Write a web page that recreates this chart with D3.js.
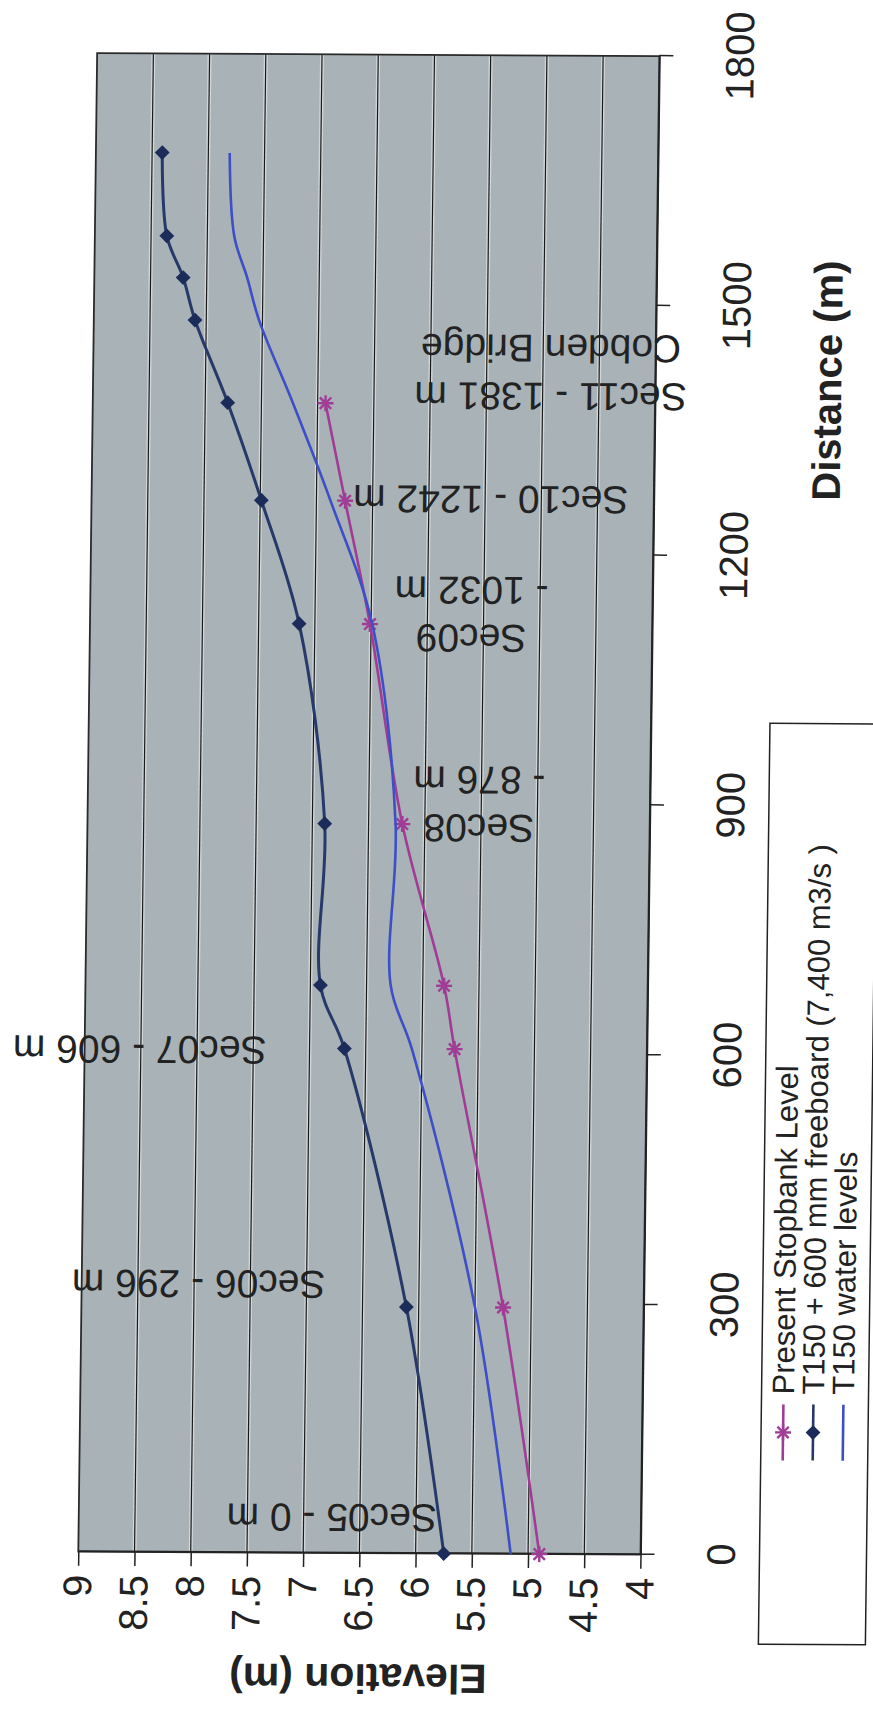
<!DOCTYPE html>
<html>
<head>
<meta charset="utf-8">
<script src="https://cdn.jsdelivr.net/npm/d3@7"></script>
<style>
  html, body { margin: 0; padding: 0; background: #ffffff; }
  svg { display: block; }
  text { font-family: "Liberation Sans", Arial, "Helvetica", sans-serif; fill: #222; }
</style>
</head>
<body>
<svg id="chart" width="873" height="1725"></svg>
<script>
// ---- data ----------------------------------------------------------------
const distanceTicks  = [0, 300, 600, 900, 1200, 1500, 1800];
const elevationTicks = [4, 4.5, 5, 5.5, 6, 6.5, 7, 7.5, 8, 8.5, 9];

const stopbankDistance = [0, 296, 606, 682, 876, 1116, 1264, 1381];
const stopbankLevel    = [4.90, 5.25, 5.71, 5.81, 6.20, 6.51, 6.745, 6.93];

const freeboardDistance = [0, 296, 606, 682, 876, 1116, 1264, 1381, 1480, 1531, 1581, 1681];
const freeboardLevel    = [5.75, 6.11, 6.69, 6.91, 6.89, 7.14, 7.49, 7.80, 8.10, 8.21, 8.36, 8.41];

const waterDistance = [0, 296, 606, 682, 876, 1116, 1264, 1381, 1480, 1531, 1581, 1681];
const waterLevel    = [5.155, 5.50, 6.09, 6.285, 6.26, 6.49, 6.875, 7.22, 7.53, 7.64, 7.76, 7.81];

const seriesNames = [
  "Present Stopbank Level",
  "T150 + 600 mm freeboard (7,400 m3/s )",
  "T150 water levels"
];

// cross-section annotations, anchored at (distance, elevation) of the label centre
const sectionText      = [["Sec05 - 0 m"], ["Sec06 - 296 m"], ["Sec07 - 606 m"], ["Sec08", "- 876 m"],
                          ["Sec09", "- 1032 m"], ["Sec10 - 1242 m"], ["Sec11 - 1381 m", "Cobden Bridge"]];
const sectionDistance  = [42, 322, 603, 871, 1099, 1266, 1390];
const sectionElevation = [6.75, 7.96, 8.51, 5.52, 5.61, 5.45, 4.93];

// ---- layout --------------------------------------------------------------
// The chart is laid out in its own frame (distance across, elevation up)
// and the whole sheet is turned on its side, sitting slightly askew.
const plotLen   = 1498.7;   // length of the distance axis
const plotDepth = 562.2;    // length of the elevation axis
const sheet = { a: 0.01258, b: -0.99991, c: 1.0, d: 0.00525, e: 78.3, f: 1551.7 };

const colors = {
  stopbank: "#a03c96",
  freeboard: "#26396a",
  freeboardMarker: "#1b2c5a",
  water: "#3d4fc6",
  plotBg: "#a9b3b7",
  ink: "#222222"
};

const x = d3.scaleLinear().domain([0, 1800]).range([0, plotLen]);
const y = d3.scaleLinear().domain([4, 9]).range([plotDepth, 0]);

const svg = d3.select("#chart");
svg.append("rect").attr("width", 873).attr("height", 1725).attr("fill", "#fff");

const g = svg.append("g")
  .attr("transform", `matrix(${sheet.a},${sheet.b},${sheet.c},${sheet.d},${sheet.e},${sheet.f})`);

// plot area
g.append("rect")
  .attr("x", 0).attr("y", 0)
  .attr("width", plotLen).attr("height", plotDepth)
  .attr("fill", colors.plotBg);

// horizontal gridlines at every elevation tick
const grid = g.append("g");
const inner = elevationTicks.filter(v => v > 4 && v < 9);
grid.selectAll("line.halo").data(inner).join("line")
  .attr("class", "halo")
  .attr("x1", 0).attr("x2", plotLen)
  .attr("y1", d => y(d)).attr("y2", d => y(d))
  .attr("stroke", "rgba(255,255,255,0.45)").attr("stroke-width", 4);
grid.selectAll("line.rule").data(inner).join("line")
  .attr("class", "rule")
  .attr("x1", 0).attr("x2", plotLen)
  .attr("y1", d => y(d)).attr("y2", d => y(d))
  .attr("stroke", "#1a1a1a").attr("stroke-width", 1.2);

// plot border
g.append("rect")
  .attr("x", 0).attr("y", 0)
  .attr("width", plotLen).attr("height", plotDepth)
  .attr("fill", "none").attr("stroke", "#2a2a2a").attr("stroke-width", 1.8);

// axes
const xAxis = d3.axisBottom(x).tickValues(distanceTicks).tickSize(14).tickSizeOuter(0).tickPadding(52)
  .tickFormat(d3.format("d"));
const yAxis = d3.axisLeft(y).tickValues(elevationTicks).tickSize(14).tickSizeOuter(0).tickPadding(9)
  .tickFormat(d => String(d));

const gx = g.append("g").attr("transform", `translate(0,${plotDepth})`).call(xAxis);
const gy = g.append("g").call(yAxis);
[gx, gy].forEach(ax => {
  ax.select(".domain").attr("stroke", colors.ink).attr("stroke-width", 1.8);
  ax.selectAll(".tick line").attr("stroke", colors.ink).attr("stroke-width", 1.5);
  ax.selectAll(".tick text")
    .attr("fill", colors.ink)
    .style("font-family", '"Liberation Sans", Arial, sans-serif')
    .style("font-size", "40px");
});

// axis titles
g.append("text")
  .attr("x", 1175).attr("y", plotDepth + 172)
  .attr("text-anchor", "middle").attr("dominant-baseline", "central")
  .style("font-size", "40px").style("font-weight", "bold")
  .text("Distance (m)");

g.append("text")
  .attr("transform", `translate(-125,${plotDepth / 2}) rotate(-90)`)
  .attr("text-anchor", "middle").attr("dominant-baseline", "central")
  .style("font-size", "41px").style("font-weight", "bold")
  .text("Elevation (m)");

// series
const curve = d3.curveCatmullRom.alpha(0.5);
const line = d3.line().x(d => x(d[0])).y(d => y(d[1])).curve(curve);

const stopbank  = stopbankDistance.map((d, i) => [d, stopbankLevel[i]]);
const freeboard = freeboardDistance.map((d, i) => [d, freeboardLevel[i]]);
const water     = waterDistance.map((d, i) => [d, waterLevel[i]]);

const starPath = "M-8,0L8,0M0,-8L0,8M-5.7,-5.7L5.7,5.7M-5.7,5.7L5.7,-5.7";
const diamondPath = d3.symbol(d3.symbolSquare, 110)();

g.append("path").datum(stopbank).attr("d", line)
  .attr("fill", "none").attr("stroke", colors.stopbank).attr("stroke-width", 2.6);
g.append("g").selectAll("path").data(stopbank).join("path")
  .attr("transform", d => `translate(${x(d[0])},${y(d[1])})`)
  .attr("d", starPath)
  .attr("stroke", colors.stopbank).attr("stroke-width", 2.4).attr("fill", "none");

g.append("path").datum(freeboard).attr("d", line)
  .attr("fill", "none").attr("stroke", colors.freeboard).attr("stroke-width", 3);
g.append("g").selectAll("path").data(freeboard).join("path")
  .attr("transform", d => `translate(${x(d[0])},${y(d[1])}) rotate(45)`)
  .attr("d", diamondPath)
  .attr("fill", colors.freeboardMarker);

g.append("path").datum(water).attr("d", line)
  .attr("fill", "none").attr("stroke", colors.water).attr("stroke-width", 2.6);

// cross-section labels (set vertically in the chart frame)
const labels = g.append("g");
sectionText.forEach((lines, i) => {
  const t = labels.append("text")
    .attr("transform", `translate(${x(sectionDistance[i])},${y(sectionElevation[i])}) rotate(-90)`)
    .attr("text-anchor", "middle")
    .attr("dominant-baseline", "central")
    .style("font-size", "39px")
    .attr("fill", "#2a2a2a");
  lines.forEach((s, k) => {
    t.append("tspan").attr("x", 0).attr("dy", k === 0 ? 0 : 48).text(s);
  });
});

// legend
const legend = g.append("g").attr("transform", `translate(0,${plotDepth})`);
legend.append("rect")
  .attr("x", -89).attr("y", 119)
  .attr("width", 921).attr("height", 107)
  .attr("fill", "#fff").attr("stroke", colors.ink).attr("stroke-width", 1.5);

const legendRows = [
  { name: seriesNames[0], color: colors.stopbank, marker: "star" },
  { name: seriesNames[1], color: colors.freeboard, marker: "diamond" },
  { name: seriesNames[2], color: colors.water, marker: null }
];
legendRows.forEach((r, i) => {
  const ry = 141 + i * 30;
  legend.append("line")
    .attr("x1", 95).attr("x2", 151).attr("y1", ry).attr("y2", ry)
    .attr("stroke", r.color).attr("stroke-width", 2.6);
  if (r.marker === "star") {
    legend.append("path").attr("transform", `translate(123,${ry})`).attr("d", starPath)
      .attr("stroke", r.color).attr("stroke-width", 2.4).attr("fill", "none");
  } else if (r.marker === "diamond") {
    legend.append("path").attr("transform", `translate(123,${ry}) rotate(45)`).attr("d", diamondPath)
      .attr("fill", colors.freeboardMarker);
  }
  legend.append("text")
    .attr("x", 161).attr("y", ry)
    .attr("dominant-baseline", "central")
    .style("font-size", "31px")
    .text(r.name);
});
</script>
</body>
</html>
